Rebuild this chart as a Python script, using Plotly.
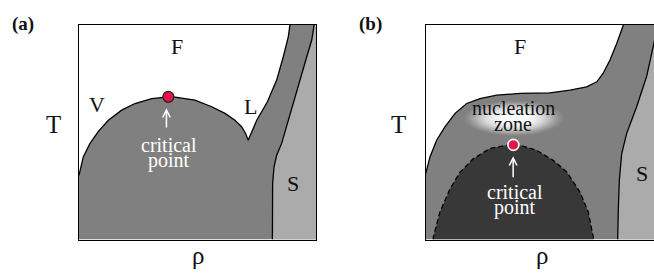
import plotly.graph_objects as go

# ---------------- data (rho, T in box units 0..1) ----------------
# Panel (a)
A_DOME_RHO = [0.000, 0.018, 0.046, 0.081, 0.124, 0.180, 0.236, 0.307, 0.377, 0.405,
              0.489, 0.560, 0.616, 0.658, 0.686, 0.703, 0.714]
A_DOME_T = [0.299, 0.385, 0.447, 0.503, 0.556, 0.603, 0.634, 0.657, 0.665, 0.664,
            0.650, 0.619, 0.588, 0.556, 0.526, 0.494, 0.463]
A_LIQ_RHO = [0.714, 0.750, 0.795, 0.834, 0.862, 0.883, 0.890]
A_LIQ_T = [0.463, 0.556, 0.642, 0.743, 0.852, 0.945, 1.000]
A_SOL_RHO = [0.992, 0.982, 0.961, 0.932, 0.904, 0.876, 0.855, 0.834, 0.823, 0.817, 0.816, 0.816]
A_SOL_T = [1.000, 0.930, 0.852, 0.743, 0.634, 0.525, 0.448, 0.393, 0.339, 0.261, 0.168, 0.000]
A_CRIT = (0.377, 0.665)

# Panel (b)
B_BOUND_RHO = [0.000, 0.018, 0.046, 0.081, 0.124, 0.173, 0.229, 0.300, 0.398, 0.482,
               0.524, 0.609, 0.679, 0.722, 0.749, 0.778, 0.806, 0.834]
B_BOUND_T = [0.307, 0.385, 0.463, 0.525, 0.588, 0.634, 0.657, 0.673, 0.681, 0.685,
             0.684, 0.696, 0.712, 0.735, 0.775, 0.838, 0.914, 1.000]
B_SOL_RHO = [0.980, 0.960, 0.932, 0.890, 0.848, 0.827, 0.817, 0.813, 0.810]
B_SOL_T = [1.000, 0.899, 0.759, 0.619, 0.495, 0.401, 0.276, 0.151, 0.000]
B_SPIN_RHO = [0.032, 0.032, 0.060, 0.103, 0.145, 0.201, 0.271, 0.342, 0.370, 0.398,
              0.468, 0.538, 0.595, 0.651, 0.686, 0.707, 0.709]
B_SPIN_T = [0.000, 0.011, 0.128, 0.237, 0.314, 0.377, 0.424, 0.439, 0.441, 0.439,
            0.416, 0.369, 0.315, 0.221, 0.128, 0.011, 0.000]
B_CRIT = (0.370, 0.441)

# ---------------- style ----------------
W, H = 654, 274
MID = "#808080"
LIGHT = "#ababab"
DARK = "#383838"
RED = "#e3154a"
LW = 1.3
FONT = "Liberation Serif, Times New Roman, serif"

fig = go.Figure()

def poly(xs, ys, color, xa, ya):
    fig.add_trace(go.Scatter(x=xs, y=ys, mode="lines", fill="toself", fillcolor=color,
                             line=dict(width=0, color=color),
                             xaxis=xa, yaxis=ya, hoverinfo="skip", showlegend=False))

def outline(xs, ys, xa, ya, dash="solid"):
    fig.add_trace(go.Scatter(x=xs, y=ys, mode="lines",
                             line=dict(color="black", width=LW, dash=dash),
                             xaxis=xa, yaxis=ya, hoverinfo="skip", showlegend=False))

# ---- panel (a)
a_edge_x = A_DOME_RHO + A_LIQ_RHO[1:]
a_edge_y = A_DOME_T + A_LIQ_T[1:]
poly(a_edge_x + [1.0, 1.0, 0.0], a_edge_y + [1.0, 0.0, 0.0], MID, "x", "y")
poly(A_SOL_RHO + [1.0, 1.0], A_SOL_T + [0.0, 1.0], LIGHT, "x", "y")
outline(a_edge_x, a_edge_y, "x", "y")
outline(A_SOL_RHO, A_SOL_T, "x", "y")
fig.add_trace(go.Scatter(x=[A_CRIT[0]], y=[A_CRIT[1]], mode="markers",
                         marker=dict(size=11, color=RED, line=dict(color="#222", width=1.2)),
                         xaxis="x", yaxis="y", hoverinfo="skip", showlegend=False, cliponaxis=False))

# ---- panel (b)
poly(B_BOUND_RHO + [1.2, 1.2, 0.0], B_BOUND_T + [1.0, 0.0, 0.0], MID, "x2", "y2")
poly(B_SOL_RHO + [1.2, 1.2], B_SOL_T + [0.0, 1.0], LIGHT, "x2", "y2")
poly(B_SPIN_RHO, B_SPIN_T, DARK, "x2", "y2")
outline(B_SPIN_RHO, B_SPIN_T, "x2", "y2", dash="5px,3px")
outline(B_BOUND_RHO, B_BOUND_T, "x2", "y2")
outline(B_SOL_RHO, B_SOL_T, "x2", "y2")
fig.add_trace(go.Scatter(x=[B_CRIT[0]], y=[B_CRIT[1]], mode="markers",
                         marker=dict(size=11, color=RED, line=dict(color="white", width=1.6)),
                         xaxis="x2", yaxis="y2", hoverinfo="skip", showlegend=False, cliponaxis=False))

# nucleation glow (stacked translucent ellipses, soft edge)
shapes = []
gx, gy = 0.372, 0.565
N = 22
for i in range(N):
    f = 1.0 - i * (0.85 / N)
    shapes.append(dict(type="circle", xref="x2", yref="y2", layer="above",
                       x0=gx - 0.21 * f, x1=gx + 0.21 * f, y0=gy - 0.082 * f, y1=gy + 0.082 * f,
                       fillcolor="white", opacity=0.04 + 0.012 * i, line=dict(width=0)))

# ---------------- annotations ----------------
ann = []
def txt(x, y, s, xr, yr, size=22, color="#111", bold=False):
    ann.append(dict(x=x, y=y, xref=xr, yref=yr, text=("<b>%s</b>" % s) if bold else s,
                    showarrow=False, xanchor="center", yanchor="middle",
                    font=dict(family=FONT, size=size, color=color)))

def ptxt(px, py, s, size=22, bold=False):
    txt(px / W, 1 - py / H, s, "paper", "paper", size=size, bold=bold)

# labels outside the boxes (paper positions)
ptxt(22.5, 24, "(a)", size=19, bold=True)
ptxt(370, 24, "(b)", size=19, bold=True)
ptxt(53, 124, "T", size=25)
ptxt(398, 124, "T", size=25)
ptxt(198, 255, "ρ", size=25)
ptxt(542, 255, "ρ", size=25)

# panel (a)
txt(0.414, 0.900, "F", "x", "y")
txt(0.076, 0.630, "V", "x", "y")
txt(0.722, 0.620, "L", "x", "y")
txt(0.903, 0.262, "S", "x", "y")
txt(0.378, 0.440, "critical", "x", "y", size=20, color="white")
txt(0.378, 0.368, "point", "x", "y", size=20, color="white")
ann.append(dict(x=0.369, y=0.612, ax=0.369, ay=0.515, xref="x", yref="y", axref="x", ayref="y",
                text="", showarrow=True, arrowhead=5, arrowsize=1.0, arrowwidth=1.5,
                arrowcolor="white", standoff=0, startstandoff=0))

# panel (b)
txt(0.398, 0.900, "F", "x2", "y2")
txt(0.913, 0.308, "S", "x2", "y2")
txt(0.370, 0.612, "nucleation", "x2", "y2", size=20, color="#111")
txt(0.370, 0.538, "zone", "x2", "y2", size=20, color="#111")
txt(0.378, 0.220, "critical", "x2", "y2", size=20, color="white")
txt(0.378, 0.148, "point", "x2", "y2", size=20, color="white")
ann.append(dict(x=0.369, y=0.388, ax=0.369, ay=0.283, xref="x2", yref="y2", axref="x2", ayref="y2",
                text="", showarrow=True, arrowhead=5, arrowsize=1.0, arrowwidth=1.5,
                arrowcolor="white", standoff=0, startstandoff=0))

axis_common = dict(showgrid=False, zeroline=False, showticklabels=False, ticks="",
                   showline=True, linecolor="black", linewidth=LW, fixedrange=True)
ydom = [1 - 239.5 / H, 1 - 25 / H]
fig.update_layout(
    width=W, height=H, margin=dict(l=0, r=0, t=0, b=0),
    paper_bgcolor="white", plot_bgcolor="white", showlegend=False,
    xaxis=dict(domain=[79 / W, 316 / W], range=[0, 1], anchor="y", mirror=True, **axis_common),
    yaxis=dict(domain=ydom, range=[0, 1], anchor="x", mirror=True, **axis_common),
    xaxis2=dict(domain=[425.7 / W, 1.0], range=[0, (W - 425.7) / 237.0], anchor="y2", mirror=True, **axis_common),
    yaxis2=dict(domain=ydom, range=[0, 1], anchor="x2", mirror=False, **axis_common),
    shapes=shapes, annotations=ann,
)

fig.write_html("out.html", config={"displayModeBar": False},
               post_script="document.body.style.margin='0';document.body.style.padding='0';"
                           "document.documentElement.style.overflow='hidden';")
